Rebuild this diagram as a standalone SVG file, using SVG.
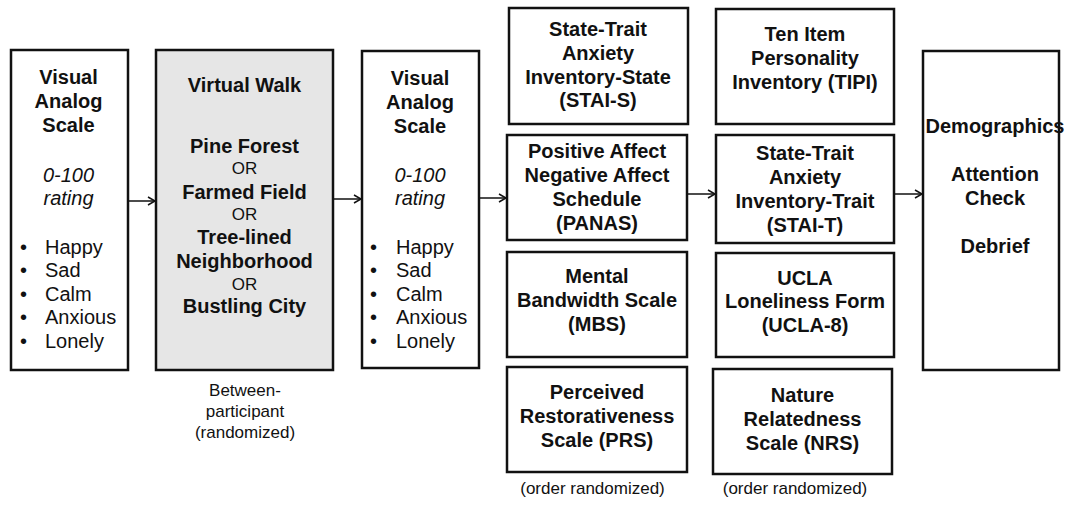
<svg xmlns="http://www.w3.org/2000/svg" width="1069" height="505" viewBox="0 0 1069 505">
<defs>
<style>
.box{fill:#fff;stroke:#111;stroke-width:2.5}
.gray{fill:#e6e6e6;stroke:#111;stroke-width:2.5}
text{font-family:"Liberation Sans",Arial,sans-serif;fill:#111;font-size:20px}
.b{font-weight:bold;text-anchor:middle}
.c{text-anchor:middle}
.i{font-style:italic;text-anchor:middle}
.s{font-size:17px;text-anchor:middle}
.or{font-size:17px;text-anchor:middle}
.conn{stroke:#111;stroke-width:1.5;fill:none}
</style>
<marker id="arr" markerUnits="userSpaceOnUse" markerWidth="10" markerHeight="10" refX="8" refY="5" orient="auto">
<path d="M1,1 L8,5 L1,9" fill="none" stroke="#111" stroke-width="1.5"/>
</marker>
</defs>
<rect width="1069" height="505" fill="#fff"/>

<g id="connectors">
<line class="conn" x1="128" y1="201" x2="155" y2="201" marker-end="url(#arr)"/>
<line class="conn" x1="333" y1="199" x2="361" y2="199" marker-end="url(#arr)"/>
<line class="conn" x1="479" y1="198" x2="506" y2="198" marker-end="url(#arr)"/>
<line class="conn" x1="687" y1="194" x2="715" y2="194" marker-end="url(#arr)"/>
<line class="conn" x1="894" y1="194" x2="922" y2="194" marker-end="url(#arr)"/>
</g>

<g id="vas1">
<rect class="box" x="11" y="50" width="117" height="320"/>
<text class="b" x="68.5" y="84">Visual</text>
<text class="b" x="68.5" y="108">Analog</text>
<text class="b" x="68.5" y="132">Scale</text>
<text class="i" x="68.5" y="182">0-100</text>
<text class="i" x="68.5" y="205">rating</text>
<text x="20" y="254">•</text><text x="45" y="254">Happy</text>
<text x="20" y="277">•</text><text x="45" y="277">Sad</text>
<text x="20" y="301">•</text><text x="45" y="301">Calm</text>
<text x="20" y="324">•</text><text x="45" y="324">Anxious</text>
<text x="20" y="348">•</text><text x="45" y="348">Lonely</text>
</g>

<g id="walk">
<rect class="gray" x="156" y="50" width="177" height="320"/>
<text class="b" x="244.5" y="92">Virtual Walk</text>
<text class="b" x="244.5" y="153">Pine Forest</text>
<text class="or" x="244.5" y="174">OR</text>
<text class="b" x="244.5" y="199">Farmed Field</text>
<text class="or" x="244.5" y="220">OR</text>
<text class="b" x="244.5" y="244">Tree-lined</text>
<text class="b" x="244.5" y="268">Neighborhood</text>
<text class="or" x="244.5" y="290">OR</text>
<text class="b" x="244.5" y="313">Bustling City</text>
<text class="s" x="245" y="396">Between-</text>
<text class="s" x="245" y="417">participant</text>
<text class="s" x="245" y="438">(randomized)</text>
</g>

<g id="vas2">
<rect class="box" x="362" y="51" width="117" height="317"/>
<text class="b" x="420" y="85">Visual</text>
<text class="b" x="420" y="109">Analog</text>
<text class="b" x="420" y="133">Scale</text>
<text class="i" x="420" y="182">0-100</text>
<text class="i" x="420" y="205">rating</text>
<text x="370" y="254">•</text><text x="396" y="254">Happy</text>
<text x="370" y="277">•</text><text x="396" y="277">Sad</text>
<text x="370" y="301">•</text><text x="396" y="301">Calm</text>
<text x="370" y="324">•</text><text x="396" y="324">Anxious</text>
<text x="370" y="348">•</text><text x="396" y="348">Lonely</text>
</g>

<g id="stai-s">
<rect class="box" x="509" y="8" width="179" height="116"/>
<text class="b" x="598" y="36">State-Trait</text>
<text class="b" x="598" y="60">Anxiety</text>
<text class="b" x="598" y="84">Inventory-State</text>
<text class="b" x="598" y="107">(STAI-S)</text>
</g>

<g id="panas">
<rect class="box" x="507" y="135" width="180" height="105"/>
<text class="b" x="597" y="158">Positive Affect</text>
<text class="b" x="597" y="182">Negative Affect</text>
<text class="b" x="597" y="206">Schedule</text>
<text class="b" x="597" y="230">(PANAS)</text>
</g>

<g id="mbs">
<rect class="box" x="507" y="252" width="180" height="105"/>
<text class="b" x="597" y="283">Mental</text>
<text class="b" x="597" y="307">Bandwidth Scale</text>
<text class="b" x="597" y="331">(MBS)</text>
</g>

<g id="prs">
<rect class="box" x="507" y="367" width="180" height="105"/>
<text class="b" x="597" y="399">Perceived</text>
<text class="b" x="597" y="423">Restorativeness</text>
<text class="b" x="597" y="447">Scale (PRS)</text>
<text class="s" x="592.5" y="494">(order randomized)</text>
</g>

<g id="tipi">
<rect class="box" x="716" y="9" width="178" height="115"/>
<text class="b" x="805" y="41">Ten Item</text>
<text class="b" x="805" y="65">Personality</text>
<text class="b" x="805" y="89">Inventory (TIPI)</text>
</g>

<g id="stai-t">
<rect class="box" x="716" y="135" width="178" height="108"/>
<text class="b" x="805" y="160">State-Trait</text>
<text class="b" x="805" y="184">Anxiety</text>
<text class="b" x="805" y="208">Inventory-Trait</text>
<text class="b" x="805" y="232">(STAI-T)</text>
</g>

<g id="ucla">
<rect class="box" x="716" y="253" width="178" height="104"/>
<text class="b" x="805" y="285">UCLA</text>
<text class="b" x="805" y="308">Loneliness Form</text>
<text class="b" x="805" y="332">(UCLA-8)</text>
</g>

<g id="nrs">
<rect class="box" x="713" y="369" width="179" height="105"/>
<text class="b" x="802.5" y="402">Nature</text>
<text class="b" x="802.5" y="426">Relatedness</text>
<text class="b" x="802.5" y="450">Scale (NRS)</text>
<text class="s" x="795" y="494">(order randomized)</text>
</g>

<g id="final">
<rect class="box" x="923" y="51" width="136" height="319"/>
<text class="b" x="995" y="133">Demographics</text>
<text class="b" x="995" y="181">Attention</text>
<text class="b" x="995" y="205">Check</text>
<text class="b" x="995" y="253">Debrief</text>
</g>
</svg>
